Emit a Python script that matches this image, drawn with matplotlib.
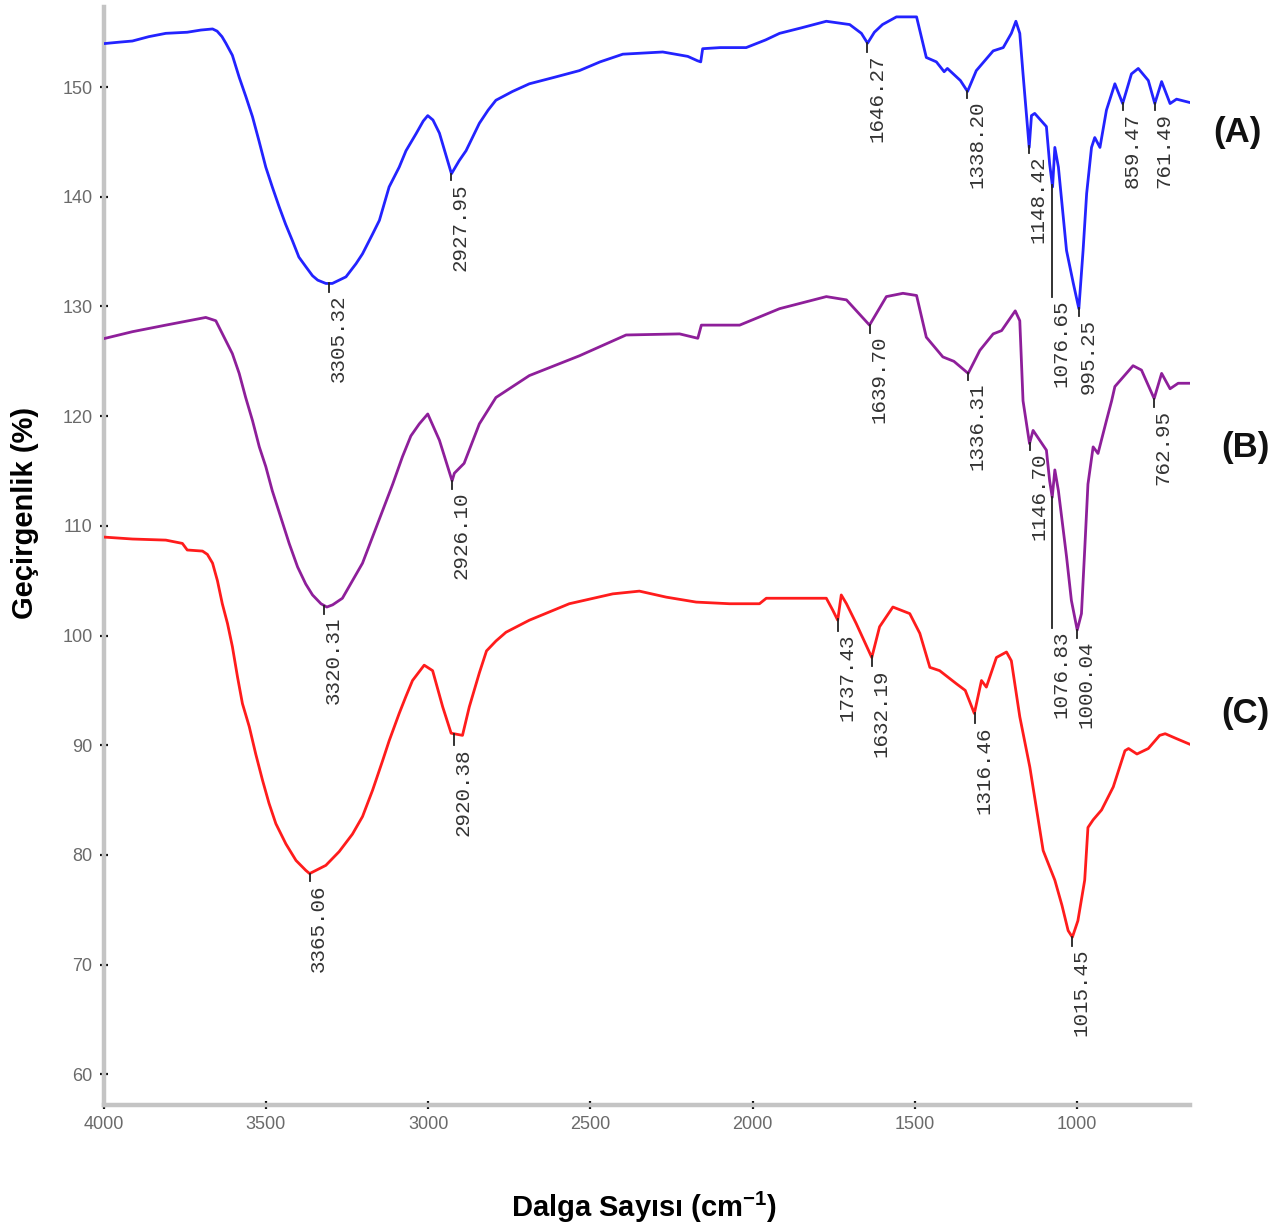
import numpy as np
import matplotlib
matplotlib.use("Agg")
import matplotlib.pyplot as plt
from matplotlib.ticker import MultipleLocator

# ---------------- data ----------------
wn_A = [4000, 3950, 3911, 3860, 3808, 3742, 3700, 3664, 3650, 3635, 3623, 3603, 3582, 3561,
        3541, 3521, 3500, 3480, 3459, 3439, 3418, 3398, 3376, 3356, 3340, 3315, 3295, 3274,
        3253, 3222, 3202, 3171, 3150, 3120, 3089, 3068, 3037, 3015, 3001, 2985, 2965, 2928,
        2904, 2883, 2842, 2815, 2791, 2740, 2688, 2610, 2534, 2470, 2400, 2277, 2200, 2170,
        2160, 2154, 2100, 2020, 1960, 1917, 1850, 1773, 1701, 1665, 1646, 1625, 1600, 1557,
        1495, 1465, 1434, 1410, 1400, 1360, 1338, 1311, 1259, 1228, 1203, 1189, 1177, 1167,
        1148, 1141, 1131, 1095, 1085, 1076, 1069, 1058, 1033, 1012, 995, 982, 971, 956, 946,
        930, 910, 884, 860, 833, 812, 781, 761, 740, 714, 694, 654]
tr_A = [153.96, 154.1, 154.2, 154.6, 154.9, 155.0, 155.2, 155.3, 155.1, 154.6, 154.0, 152.9,
        150.9, 149.1, 147.3, 145.1, 142.7, 140.9, 139.1, 137.5, 136.0, 134.5, 133.6, 132.8,
        132.4, 132.1, 132.1, 132.4, 132.7, 133.9, 134.8, 136.6, 137.85, 140.9, 142.7, 144.2,
        145.75, 146.9, 147.4, 147.0, 145.8, 142.1, 143.3, 144.2, 146.7, 147.9, 148.8, 149.6,
        150.3, 150.9, 151.5, 152.3, 153.0, 153.2, 152.8, 152.4, 152.3, 153.5, 153.6, 153.6,
        154.3, 154.9, 155.4, 156.0, 155.7, 154.9, 154.0, 155.0, 155.7, 156.4, 156.4, 152.7,
        152.3, 151.4, 151.7, 150.6, 149.6, 151.5, 153.3, 153.6, 154.9, 156.0, 154.9, 151.2,
        144.5, 147.4, 147.6, 146.4, 143.0, 140.9, 144.5, 142.7, 135.1, 132.1, 129.8, 135.1,
        140.3, 144.5, 145.4, 144.5, 147.9, 150.3, 148.5, 151.2, 151.7, 150.6, 148.5, 150.5,
        148.5, 148.9, 148.6]

wn_B = [4000, 3911, 3808, 3685, 3654, 3603, 3582, 3562, 3541, 3520, 3500, 3480, 3454, 3428,
        3402, 3377, 3356, 3330, 3312, 3294, 3264, 3233, 3202, 3171, 3140, 3109, 3079, 3053,
        3027, 3001, 2965, 2926, 2919, 2889, 2842, 2791, 2688, 2534, 2390, 2225, 2169, 2158,
        2040, 1917, 1773, 1711, 1640, 1588, 1537, 1495, 1465, 1414, 1380, 1336, 1300, 1259,
        1233, 1191, 1177, 1167, 1147, 1136, 1095, 1085, 1077, 1069, 1058, 1033, 1018, 1000,
        987, 977, 967, 951, 936, 910, 894, 884, 828, 802, 763, 740, 714, 689, 654]
tr_B = [127.06, 127.7, 128.3, 129.0, 128.7, 125.7, 123.9, 121.7, 119.6, 117.2, 115.4, 113.2,
        110.8, 108.4, 106.25, 104.7, 103.7, 102.9, 102.6, 102.8, 103.4, 105.0, 106.6, 109.0,
        111.4, 113.8, 116.3, 118.2, 119.3, 120.2, 117.8, 114.1, 114.8, 115.7, 119.3, 121.7,
        123.7, 125.5, 127.4, 127.5, 127.1, 128.3, 128.3, 129.8, 130.9, 130.6, 128.3, 130.9,
        131.2, 131.0, 127.2, 125.4, 125.0, 123.9, 126.0, 127.5, 127.8, 129.6, 128.7, 121.4,
        117.5, 118.7, 116.9, 114.1, 112.6, 115.1, 113.2, 107.2, 103.2, 100.5, 102.0, 107.8,
        113.8, 117.2, 116.6, 119.6, 121.4, 122.7, 124.6, 124.2, 121.6, 123.9, 122.5, 123.0,
        123.0]

wn_C = [4000, 3911, 3808, 3757, 3742, 3695, 3680, 3664, 3649, 3634, 3618, 3603, 3587, 3572,
        3551, 3531, 3510, 3490, 3469, 3438, 3407, 3377, 3365, 3315, 3274, 3233, 3202, 3171,
        3140, 3120, 3089, 3069, 3048, 3012, 2986, 2955, 2929, 2894, 2873, 2842, 2820, 2791,
        2760, 2688, 2565, 2431, 2349, 2266, 2174, 2071, 1979, 1958, 1773, 1753, 1738, 1727,
        1711, 1681, 1633, 1609, 1568, 1516, 1485, 1454, 1424, 1372, 1345, 1317, 1295, 1280,
        1249, 1218, 1203, 1177, 1146, 1105, 1069, 1047, 1028, 1015, 998, 977, 967, 951, 925,
        889, 853, 842, 816, 781, 746, 729, 694, 654]
tr_C = [108.98, 108.8, 108.7, 108.4, 107.8, 107.7, 107.4, 106.6, 105.0, 102.9, 101.1, 99.0,
        96.2, 93.8, 91.7, 89.2, 86.8, 84.7, 82.85, 81.0, 79.5, 78.6, 78.3, 79.05, 80.3, 81.9,
        83.5, 85.9, 88.6, 90.4, 92.9, 94.4, 95.9, 97.3, 96.8, 93.5, 91.1, 90.9, 93.5, 96.6,
        98.6, 99.5, 100.3, 101.4, 102.9, 103.8, 104.05, 103.5, 103.05, 102.9, 102.9, 103.4,
        103.4, 102.3, 101.4, 103.7, 102.9, 101.1, 98.0, 100.8, 102.6, 102.0, 100.2, 97.1,
        96.8, 95.6, 95.0, 92.9, 95.9, 95.3, 98.0, 98.5, 97.7, 92.6, 88.0, 80.4, 77.7, 75.4,
        73.1, 72.5, 74.0, 77.7, 82.5, 83.2, 84.1, 86.2, 89.5, 89.7, 89.2, 89.7, 90.9, 91.05,
        90.6, 90.1]

peak_lab_A = ["3305.32", "2927.95", "1646.27", "1338.20", "1148.42", "1076.65", "995.25",
              "859.47", "761.49"]
peak_end_A = [131.3, 141.5, 153.2, 149.0, 144.0, 130.9, 129.1, 147.9, 147.9]

peak_lab_B = ["3320.31", "2926.10", "1639.70", "1336.31", "1146.70", "1076.83", "1000.04",
              "762.95"]
peak_end_B = [102.0, 113.4, 127.6, 123.3, 116.9, 100.7, 99.8, 120.8]

peak_lab_C = ["3365.06", "2920.38", "1737.43", "1632.19", "1316.46", "1015.45"]
peak_end_C = [77.6, 90.0, 100.4, 97.2, 92.0, 71.7]

series_names = ["(A)", "(B)", "(C)"]
x_ticks = [4000, 3500, 3000, 2500, 2000, 1500, 1000]
y_ticks = [60, 70, 80, 90, 100, 110, 120, 130, 140, 150]

# ---------------- figure ----------------
plt.rcParams["mathtext.fontset"] = "custom"
plt.rcParams["mathtext.rm"] = "Liberation Sans"
plt.rcParams["mathtext.bf"] = "Liberation Sans:bold"

fig = plt.figure(figsize=(12.81, 12.30), dpi=100)
ax = fig.add_axes([0.0808, 0.1016, 0.8478, 0.8927])

colors = ["#2323ff", "#8e1f9a", "#ff1c1c"]
curves = [(wn_A, tr_A, peak_lab_A, peak_end_A),
          (wn_B, tr_B, peak_lab_B, peak_end_B),
          (wn_C, tr_C, peak_lab_C, peak_end_C)]

for (wn, tr, labs, ends), col in zip(curves, colors):
    ax.plot(wn, tr, color=col, lw=2.0, zorder=3, solid_joinstyle="round")
    wn_r = np.array(wn[::-1], dtype=float)
    tr_r = np.array(tr[::-1], dtype=float)
    for lab, end in zip(labs, ends):
        xp = float(lab)
        y0 = np.interp(xp, wn_r, tr_r)
        ax.plot([xp, xp], [y0, end], color="#222222", lw=1.3, zorder=4)
        ax.annotate(lab, xy=(xp, end), xytext=(6.5, -2), textcoords="offset points",
                    rotation=90, ha="center", va="top", fontsize=15,
                    family=["Liberation Mono", "DejaVu Sans Mono"], color="#333333")

ax.set_xlim(4000, 654)
ax.set_ylim(57.2, 157.3)

for s in ["top", "right"]:
    ax.spines[s].set_visible(False)
for s in ["left", "bottom"]:
    ax.spines[s].set_color("#c4c4c4")
    ax.spines[s].set_linewidth(3.2)

ax.set_xticks(x_ticks)
ax.set_yticks(y_ticks)
ax.xaxis.set_minor_locator(MultipleLocator(100))
ax.yaxis.set_minor_locator(MultipleLocator(2))
ax.tick_params(which="major", direction="inout", length=6, width=1.6, color="#111111",
               labelsize=13, labelcolor="#6a6a6a", pad=5)
ax.tick_params(which="minor", direction="inout", length=3, width=1.6, color="#111111")
for lbl in ax.get_xticklabels() + ax.get_yticklabels():
    lbl.set_family(["Liberation Sans Narrow", "Liberation Sans"])

fig.text(0.0195, 0.583, "Geçirgenlik (%)", rotation=90, ha="center", va="center",
         fontsize=21, fontweight="bold", family="Liberation Sans")
fig.text(0.503, 0.018, r"Dalga Sayısı (cm$^{\mathbf{-1}}$)", ha="center", va="center",
         fontsize=21, fontweight="bold", family="Liberation Sans")

label_pos = [(0.966, 0.892), (0.972, 0.636), (0.972, 0.420)]
for name, (fx, fy) in zip(series_names, label_pos):
    fig.text(fx, fy, name, ha="center", va="center", fontsize=25, fontweight="bold",
             family=["Liberation Sans Narrow", "Liberation Sans"], color="#111111")

fig.savefig("out.png", dpi=100)
